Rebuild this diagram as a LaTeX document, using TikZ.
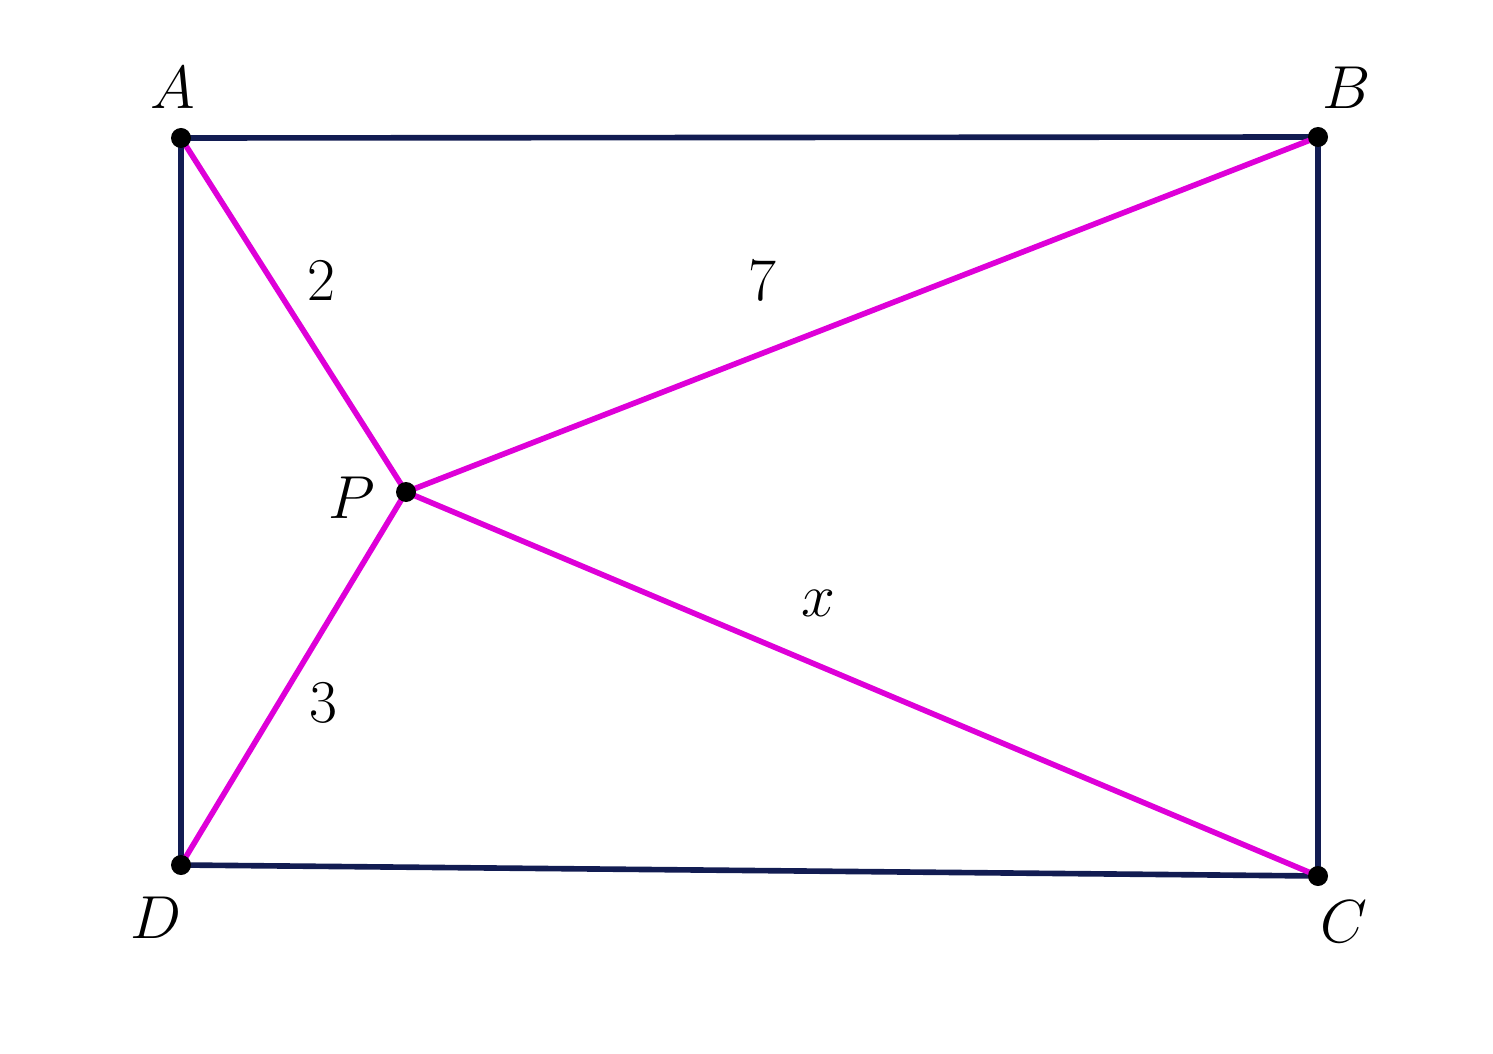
\documentclass[tikz,border=0pt]{standalone}
\usepackage{amssymb,amsmath}
\usepackage{tikz}
\usepackage{xcolor}
\usetikzlibrary{arrows,positioning}
\definecolor{navy}{RGB}{18,28,82}
\definecolor{mag}{RGB}{222,0,216}

\begin{document}
\begin{tikzpicture}[font=\LARGE]
	\useasboundingbox (0,0) rectangle (14.93,10.53);
	\coordinate(A) at (1.81,9.15);
	\coordinate(B) at (13.18,9.16);
	\coordinate(C) at (13.18,1.77);
	\coordinate(D) at (1.81,1.88);
	\coordinate(P) at (4.06,5.61);

	\draw[navy,line width=1.6pt] (A) -- (B) -- (C) -- (D) -- cycle;

	\draw[mag,line width=1.6pt] (A) -- (P);
	\draw[mag,line width=1.6pt] (B) -- (P);
	\draw[mag,line width=1.6pt] (C) -- (P);
	\draw[mag,line width=1.6pt] (D) -- (P);

	\foreach \p in {A,B,C,D,P}
		\fill (\p) circle (0.1);

	\node (lA) at (1.73,9.65) {$A$};
	\node (lB) at (13.47,9.65) {$B$};
	\node (lC) at (13.44,1.31) {$C$};
	\node (lD) at (1.56,1.35) {$D$};
	\node (lP) at (3.52,5.55) {$P$};
	\node (lAP) at (3.21,7.72) {$2$};
	\node (lBP) at (7.62,7.72) {$7$};
	\node (lCP) at (8.18,4.50) {$x$};
	\node (lDP) at (3.23,3.50) {$3$};
\end{tikzpicture}
\end{document}
